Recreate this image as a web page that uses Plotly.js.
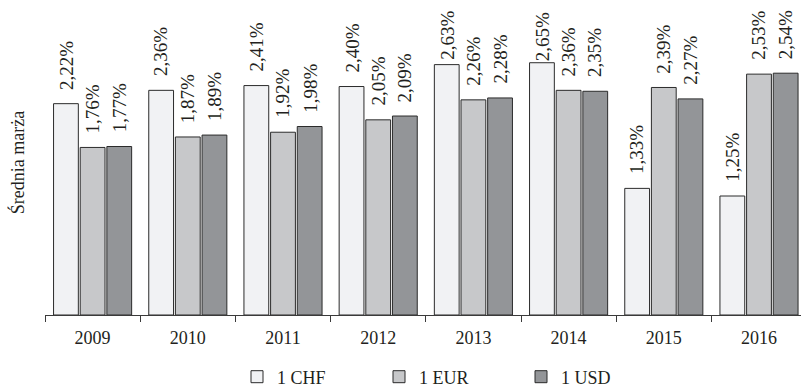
<!DOCTYPE html>
<html>
<head>
<meta charset="utf-8">
<script src="https://cdn.plot.ly/plotly-3.0.1.min.js"></script>
<style>html,body{margin:0;padding:0;background:#fff;}#chart{width:801px;height:389px;}</style>
</head>
<body>
<div id="chart"></div>
<script>
// ---- data ----
var years = ['2009','2010','2011','2012','2013','2014','2015','2016'];
var chf = [2.22, 2.36, 2.41, 2.40, 2.63, 2.65, 1.33, 1.25];
var eur = [1.76, 1.87, 1.92, 2.05, 2.26, 2.36, 2.39, 2.53];
var usd = [1.77, 1.89, 1.98, 2.09, 2.28, 2.35, 2.27, 2.54];
var seriesNames = ['1 CHF', '1 EUR', '1 USD'];

// ---- style ----
var colors = ['#f1f2f4', '#c7c8ca', '#939598'];
var FONT = '"Liberation Serif", "Times New Roman", serif';
var bargap = 0.16, bargroupgap = 0.07;
var marginL = 45, marginR = 0, marginT = 10, marginB = 74;
var W = 801, H = 389;
var catPx = 95.2;
var plotW = W - marginL - marginR;
var plotH = H - marginT - marginB;
var pxPerUnit = 95.2;
var defaultGap = 12;
var gapOverrides = {'0-4': 3, '0-5': 0}; // series-index - category-index : label gap (px)

function fmt(v){ return v.toFixed(2).replace('.', ',') + '%'; }

var all = [chf, eur, usd];
var traces = all.map(function(vals, i){
  return {
    type: 'bar', name: seriesNames[i], x: years, y: vals,
    marker: {color: colors[i], line: {color: '#2b2b2b', width: 1}},
    hoverinfo: 'none'
  };
});

var slot = catPx * (1 - bargap) / 3;
var annotations = [];
for (var i = 0; i < all.length; i++) {
  for (var j = 0; j < years.length; j++) {
    var key = i + '-' + j;
    var g = (key in gapOverrides) ? gapOverrides[key] : defaultGap;
    annotations.push({
      x: j, y: all[i][j], xref: 'x', yref: 'y',
      text: fmt(all[i][j]), showarrow: false, textangle: -90,
      xanchor: 'center', yanchor: 'bottom',
      xshift: (i - 1) * slot, yshift: g,
      font: {family: FONT, size: 19, color: '#231f20'}
    });
  }
}

var layout = {
  width: W, height: H,
  margin: {l: marginL, r: marginR, t: marginT, b: marginB, pad: 0, autoexpand: false},
  paper_bgcolor: '#fff', plot_bgcolor: '#fff',
  barmode: 'group', bargap: bargap, bargroupgap: bargroupgap,
  font: {family: FONT, size: 18, color: '#231f20'},
  showlegend: true,
  legend: {orientation: 'h', x: (237 - marginL) / plotW, xanchor: 'left', y: -(377 - (H - marginB)) / plotH, yanchor: 'middle',
           font: {family: FONT, size: 18, color: '#231f20'}, entrywidth: 97, entrywidthmode: 'pixels',
           traceorder: 'normal'},
  xaxis: {
    type: 'category', range: [-0.5, -0.5 + plotW / catPx],
    showline: true, linecolor: '#3a3a3a', linewidth: 1,
    ticks: 'outside', tickson: 'boundaries', ticklen: 6, tickcolor: '#3a3a3a', tickwidth: 1,
    showgrid: false, zeroline: false, fixedrange: true, ticklabelstandoff: 6,
    tickfont: {family: FONT, size: 18, color: '#231f20'}
  },
  yaxis: {
    range: [0, plotH / pxPerUnit], showline: false, showgrid: false, zeroline: false,
    showticklabels: false, ticks: '', fixedrange: true,
    title: {text: 'Średnia marża', standoff: 14, font: {family: FONT, size: 18, color: '#231f20'}}
  },
  annotations: annotations
};

Plotly.newPlot('chart', traces, layout, {displayModeBar: false, staticPlot: true});
</script>
</body>
</html>
